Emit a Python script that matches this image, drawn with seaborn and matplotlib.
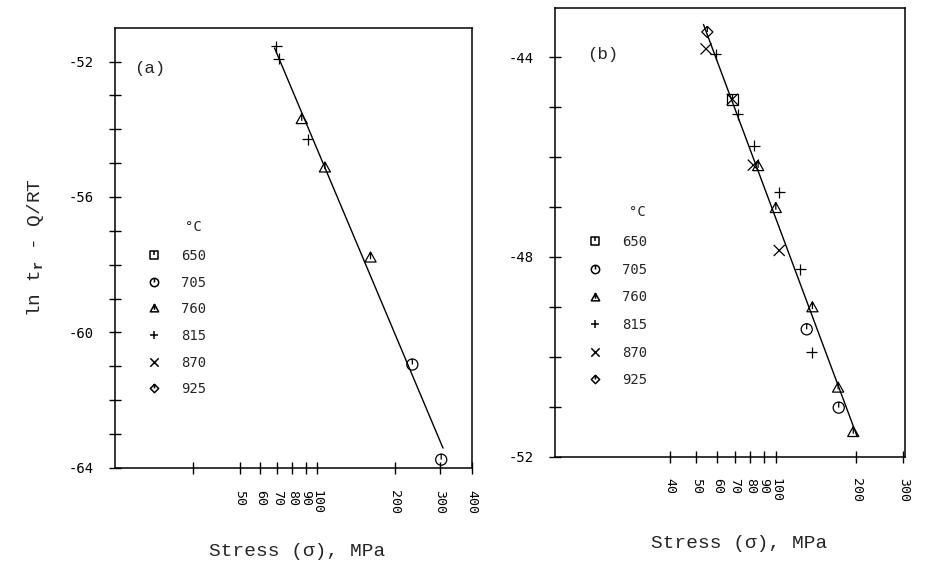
import numpy as np
import pandas as pd
import matplotlib
matplotlib.use('Agg')
import matplotlib.pyplot as plt
from matplotlib.path import Path
from matplotlib.lines import Line2D
from matplotlib.ticker import NullLocator
import seaborn as sns

# temperatures (deg C) shown in both legends
temps = [650, 705, 760, 815, 870, 925]

# panel (a) points
a_temp = [815, 815, 760, 815, 760, 760, 705, 705]
a_stress = [69.3, 70.7, 87.0, 91.6, 107.0, 161.0, 234.0, 303.0]
a_lnt = [-51.55, -51.92, -53.70, -54.30, -55.13, -57.79, -60.95, -63.76]
# panel (a) fitted line, end points
a_fit_stress = [68.2, 308.0]
a_fit_lnt = [-51.6, -63.42]

# panel (b) points
b_temp = [925, 870, 815, 650, 870, 815, 815, 870, 760, 815,
          760, 870, 815, 760, 705, 815, 760, 705, 760]
b_stress = [55.1, 54.5, 59.3, 68.4, 68.4, 71.7, 82.6, 82.0, 85.5, 102.6,
            99.6, 102.6, 123.2, 136.7, 130.1, 136.1, 170.7, 171.6, 194.6]
b_lnt = [-43.49, -43.83, -43.94, -44.84, -44.84, -45.14, -45.77, -46.16, -46.18, -46.70,
         -47.02, -47.87, -48.25, -49.01, -49.45, -49.91, -50.62, -51.02, -51.51]
b_fit_stress = [53.3, 201.3]
b_fit_lnt = [-43.34, -51.6]

# axis ticks
a_xticks = [33, 50, 60, 70, 80, 90, 100, 200, 300, 400]
a_xlabels = ['', '50', '60', '70', '80', '90', '100', '200', '300', '400']
a_yticks = list(range(-64, -51))
a_ylabeled = [-64, -60, -56, -52]
b_xticks = [40, 50, 60, 70, 80, 90, 100, 200, 300]
b_xlabels = ['40', '50', '60', '70', '80', '90', '100', '200', '300']
b_yticks = list(range(-52, -43))
b_ylabeled = [-52, -48, -44]

sns.set_style('white')
plt.rcParams['font.family'] = ['DejaVu Sans Mono']
plt.rcParams['mathtext.fontset'] = 'custom'
plt.rcParams['mathtext.rm'] = 'Liberation Mono'
plt.rcParams['mathtext.bf'] = 'Liberation Mono:bold'

M, L, C = Path.MOVETO, Path.LINETO, Path.CLOSEPOLY


def with_stem(shape, bottom=0.0):
    stem = Path([(0, 1), (0, bottom)], [M, L])
    return Path.make_compound_path(shape, stem)


square = Path([(-1, -1), (1, -1), (1, 1), (-1, 1), (-1, -1)], [M, L, L, L, C])
triangle = Path([(-1, -0.8), (1, -0.8), (0, 1), (-1, -0.8)], [M, L, L, C])
diamond = Path([(0, 1), (1, 0), (0, -1), (-1, 0), (0, 1)], [M, L, L, L, C])
plus = Path([(-1, 0), (1, 0), (0, -1), (0, 1)], [M, L, M, L])
cross = Path([(-1, -1), (1, 1), (-1, 1), (1, -1)], [M, L, M, L])

marker_map = {
    650: with_stem(square),
    705: with_stem(Path.unit_circle()),
    760: with_stem(triangle, -0.3),
    815: plus,
    870: cross,
    925: with_stem(diamond),
}

df_a = pd.DataFrame({'stress': a_stress, 'lnt': a_lnt, 'temp': a_temp})
df_b = pd.DataFrame({'stress': b_stress, 'lnt': b_lnt, 'temp': b_temp})
fit_a = pd.DataFrame({'stress': a_fit_stress, 'lnt': a_fit_lnt})
fit_b = pd.DataFrame({'stress': b_fit_stress, 'lnt': b_fit_lnt})

fig = plt.figure(figsize=(9.32, 5.65), dpi=100)
ax_a = fig.add_axes([0.1237, 0.1721, 0.383, 0.7788])
ax_b = fig.add_axes([0.5958, 0.192, 0.3755, 0.7947])


def draw_panel(ax, df, fit, xlim, ylim, xticks, xlabels, yticks, ylabeled,
               tag, tag_xy, degc_xy, leg_xy, leg_spacing, xlabel_xy):
    ax.set_xscale('log')
    sns.lineplot(data=fit, x='stress', y='lnt', color='black', linewidth=1.0,
                 ax=ax, legend=False)
    sns.scatterplot(data=df, x='stress', y='lnt', style='temp',
                    markers={t: marker_map[t] for t in df['temp'].unique()},
                    s=64, color='black', facecolor='none', edgecolor='black',
                    linewidth=0.9, ax=ax, legend=False)
    ax.set_xlim(*xlim)
    ax.set_ylim(*ylim)
    ax.set_xticks(xticks)
    ax.set_xticklabels(xlabels, rotation=-90, fontsize=9.5)
    ax.xaxis.set_minor_locator(NullLocator())
    ax.set_yticks(yticks)
    ax.set_yticklabels([str(v) if v in ylabeled else '' for v in yticks], fontsize=10)
    ax.tick_params(axis='both', direction='inout', length=8.5, width=1.0,
                   pad=11.5, color='black', labelcolor='black',
                   left=True, bottom=True, right=False, top=False)
    for sp in ax.spines.values():
        sp.set_visible(True)
        sp.set_color('black')
        sp.set_linewidth(1.1)
    ax.set_ylabel('')
    ax.set_xlabel('Stress (σ), MPa', fontsize=14, family='Liberation Mono')
    ax.xaxis.set_label_coords(*xlabel_xy)
    ax.text(*tag_xy, tag, transform=ax.transAxes, ha='center', va='center',
            fontsize=12.5, family='Liberation Mono')
    ax.text(*degc_xy, '°C', transform=ax.transAxes, ha='center', va='center',
            fontsize=10)
    handles = [Line2D([], [], linestyle='none', marker=marker_map[t], markersize=6,
                      markerfacecolor='none', markeredgecolor='black',
                      markeredgewidth=1.1) for t in temps]
    ax.legend(handles, [str(t) for t in temps], loc='upper left',
              bbox_to_anchor=leg_xy, bbox_transform=ax.transAxes, frameon=False,
              borderpad=0, borderaxespad=0, handlelength=1.0, handletextpad=1.45,
              labelspacing=leg_spacing, fontsize=10)


draw_panel(ax_a, df_a, fit_a, (16.4, 400), (-64, -51), a_xticks, a_xlabels,
           a_yticks, a_ylabeled, '(a)', (0.097, 0.908), (0.22, 0.548),
           (0.089, 0.497), 0.91, (0.509, -0.171))
draw_panel(ax_b, df_b, fit_b, (14.8, 305), (-52, -43), b_xticks, b_xlabels,
           b_yticks, b_ylabeled, '(b)', (0.135, 0.896), (0.235, 0.545),
           (0.0936, 0.493), 0.98, (0.525, -0.175))

ax_a.set_ylabel('ln t$_\\mathbf{r}$ - Q/RT', fontsize=14, family='Liberation Mono')
ax_a.yaxis.set_label_coords(-0.195, 0.5)

fig.savefig('out.png', dpi=100, facecolor='white')
